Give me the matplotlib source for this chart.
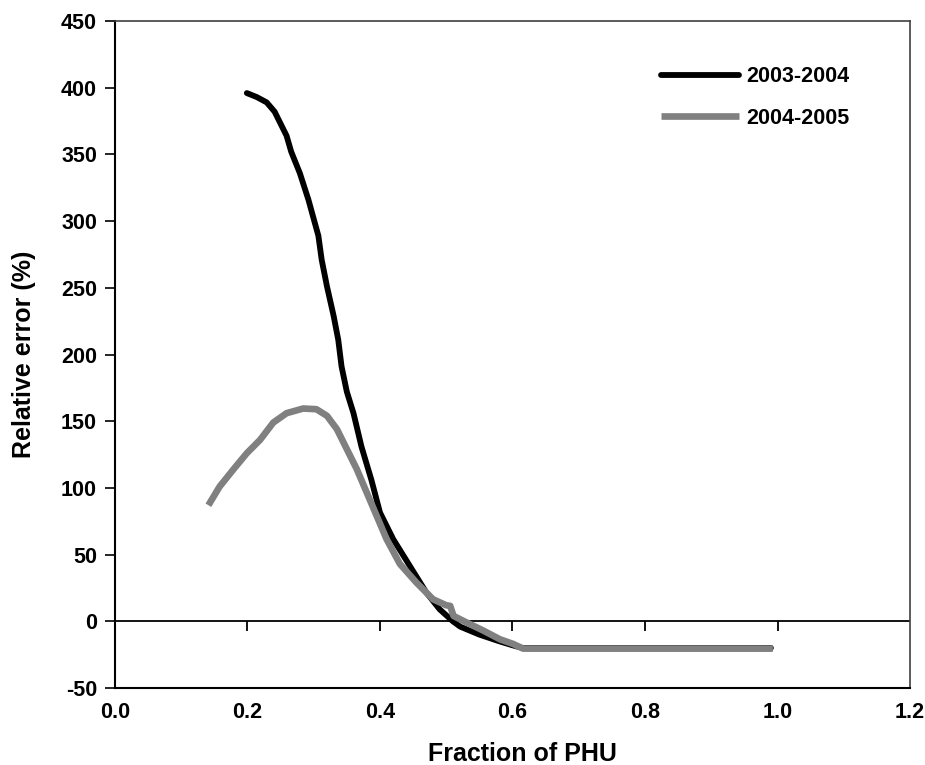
import matplotlib
matplotlib.use("Agg")
import matplotlib.pyplot as plt

plt.rcParams['font.family'] = ['Liberation Sans', 'DejaVu Sans']
plt.rcParams['font.weight'] = 'bold'
plt.rcParams['axes.unicode_minus'] = False

# 2003-2004 season
x_0304 = [0.199, 0.214, 0.229, 0.241, 0.249, 0.259, 0.266, 0.279, 0.292, 0.307,
          0.312, 0.320, 0.330, 0.337, 0.342, 0.350, 0.360, 0.372, 0.387, 0.400,
          0.420, 0.445, 0.470, 0.490, 0.510, 0.521, 0.550, 0.580, 0.600, 0.615,
          0.700, 0.800, 0.900, 0.990]
y_0304 = [396, 393, 389, 382, 374, 364, 352, 336, 316, 289,
          271, 251, 229, 211, 191, 172, 156, 131, 106, 81.5,
          61.5, 41.5, 21.5, 9, 0, -4, -10, -15, -18, -20,
          -20, -20, -20, -20]

# 2004-2005 season
x_0405 = [0.141, 0.158, 0.179, 0.199, 0.219, 0.239, 0.259, 0.284, 0.304, 0.320,
          0.335, 0.350, 0.365, 0.380, 0.395, 0.410, 0.430, 0.455, 0.480, 0.500,
          0.506, 0.511, 0.531, 0.556, 0.581, 0.601, 0.616, 0.700, 0.800, 0.900,
          0.993]
y_0405 = [87, 101, 114, 126, 136, 149, 156, 159.5, 159, 154,
          144, 129, 114, 96.5, 79, 61.5, 43, 29, 16.5, 12,
          11.5, 4, -1, -7, -13.5, -17, -20.5, -20.5, -20.5, -20.5,
          -20.5]

xticks = [0.0, 0.2, 0.4, 0.6, 0.8, 1.0, 1.2]
yticks = list(range(-50, 451, 50))

fig = plt.figure(figsize=(9.25, 7.65), dpi=100)
ax = fig.add_axes([0.1243, 0.1007, 0.8595, 0.8718])

ax.plot(x_0304, y_0304, color='black', lw=4.2, solid_capstyle='round', label='2003-2004')
ax.plot(x_0405, y_0405, color='#808080', lw=4.8, solid_capstyle='butt', label='2004-2005')

ax.set_xlim(0, 1.2)
ax.set_ylim(-50, 450)
ax.set_xticks(xticks)
ax.set_xticklabels(['%.1f' % v for v in xticks])
ax.set_yticks(yticks)
ax.tick_params(axis='x', length=0, pad=10, labelsize=15.5)
ax.tick_params(axis='y', direction='out', length=7, width=1.2, pad=6, labelsize=15.5)

for s in ['left', 'bottom']:
    ax.spines[s].set_linewidth(1.5)
for s in ['top', 'right']:
    ax.spines[s].set_linewidth(1.2)
    ax.spines[s].set_color('#404040')

# zero line with its own downward ticks, like the excel axis
ax.axhline(0, color='black', lw=1.3, zorder=1)
zero = ax.secondary_xaxis(50 / 500)
zero.set_xticks(xticks[1:-1])
zero.tick_params(direction='out', length=7, width=1.3, labelbottom=False)
zero.spines['bottom'].set_visible(False)

ax.set_xlabel('Fraction of PHU', fontsize=18, fontweight='bold')
ax.xaxis.set_label_coords(0.512, -0.081)
ax.set_ylabel('Relative error (%)', fontsize=18, fontweight='bold', labelpad=18)

ax.legend(loc='upper left', bbox_to_anchor=(0.687, 0.932), frameon=False,
          fontsize=15.5, handlelength=3.6, handletextpad=0.35, labelspacing=0.95,
          borderpad=0, borderaxespad=0)

fig.savefig('out.png', dpi=100)
